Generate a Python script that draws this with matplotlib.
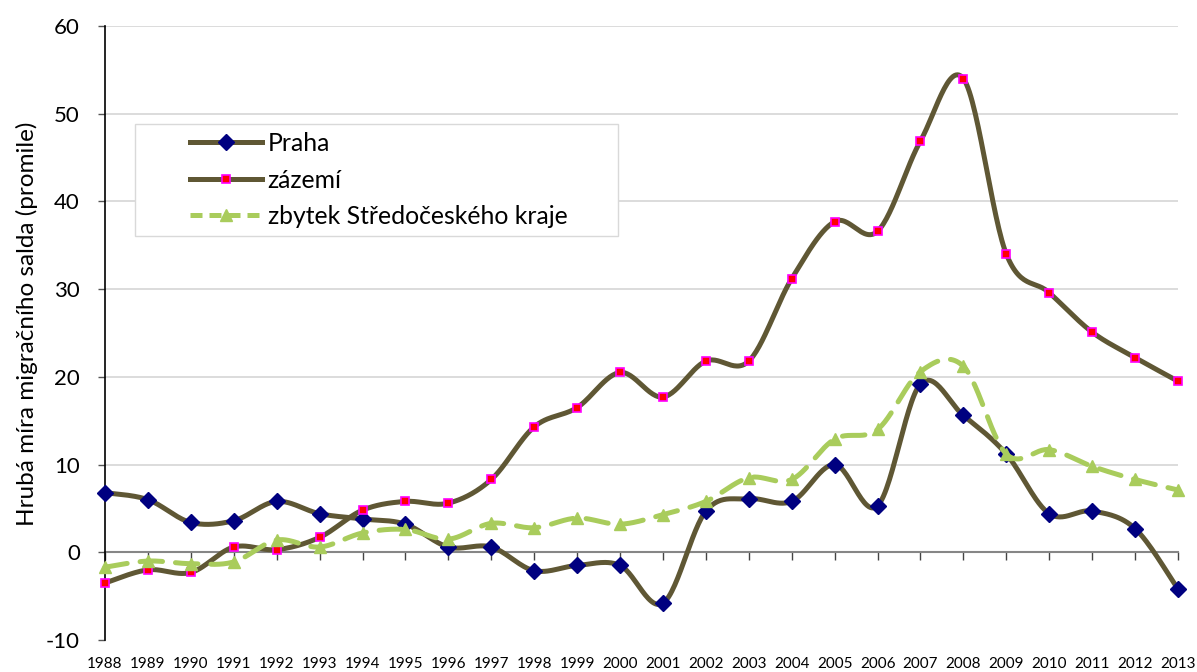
import numpy as np
import matplotlib
matplotlib.use("Agg")
import matplotlib.pyplot as plt
from matplotlib.lines import Line2D
from matplotlib.patches import Rectangle

years = list(range(1988, 2014))
praha = [6.8, 6.0, 3.4, 3.6, 5.8, 4.4, 3.8, 3.2, 0.6, 0.6, -2.1, -1.5, -1.5, -5.8,
         4.7, 6.1, 5.8, 10.0, 5.3, 19.2, 15.6, 11.2, 4.4, 4.7, 2.7, -4.2]
zazemi = [-3.5, -2.0, -2.3, 0.6, 0.3, 1.7, 4.8, 5.8, 5.6, 8.3, 14.3, 16.5, 20.5, 17.7,
          21.8, 21.8, 31.2, 37.7, 36.6, 46.9, 54.0, 34.0, 29.6, 25.1, 22.2, 19.5]
zbytek = [-1.7, -1.0, -1.3, -1.1, 1.4, 0.6, 2.2, 2.6, 1.5, 3.3, 2.8, 3.9, 3.2, 4.3,
          5.8, 8.5, 8.3, 12.9, 14.0, 20.6, 21.2, 11.2, 11.7, 9.8, 8.3, 7.1]
labels = ["Praha", "zázemí", "zbytek Středočeského kraje"]
y_ticks = list(range(-10, 61, 10))

FONT = "Lato"
plt.rcParams['font.family'] = [FONT, 'DejaVu Sans']


def smooth(xs, ys, n=30):
    """Excel-like smoothed line: Catmull-Rom Bezier segments."""
    P = np.column_stack([xs, ys]).astype(float)
    m = len(P)
    out = []
    t = np.linspace(0, 1, n)[:, None]
    for i in range(m - 1):
        p0 = P[i - 1] if i > 0 else P[i]
        p1 = P[i]
        p2 = P[i + 1]
        p3 = P[i + 2] if i + 2 < m else P[i + 1]
        c1 = p1 + (p2 - p0) / 6.0
        c2 = p2 - (p3 - p1) / 6.0
        seg = ((1 - t) ** 3) * p1 + 3 * ((1 - t) ** 2) * t * c1 + 3 * (1 - t) * t ** 2 * c2 + t ** 3 * p2
        out.append(seg if i == 0 else seg[1:])
    s = np.vstack(out)
    return s[:, 0], s[:, 1]


W, H = 1197, 672
fig = plt.figure(figsize=(W / 100, H / 100), dpi=100)
ax = fig.add_axes([105 / W, 1 - 640 / H, (1178 - 105) / W, (640 - 26) / H])

dark = "#5f5734"
green = "#a9cc5c"
lw = 3.6
dms, sms, tms = 7.8, 6.3, 8.8

# Praha
sx, sy = smooth(years, praha)
ax.plot(sx, sy, color=dark, lw=lw, zorder=3, clip_on=False, solid_capstyle='round')
ax.plot(years, praha, ls='none', marker='D', ms=dms, color='#000080', mec='#000080', mew=1,
        zorder=4, clip_on=False)
# zazemi
sx, sy = smooth(years, zazemi)
ax.plot(sx, sy, color=dark, lw=lw, zorder=5, clip_on=False, solid_capstyle='round')
ax.plot(years, zazemi, ls='none', marker='s', ms=sms, color='#ff0000', mec='#ff00ff', mew=1.2,
        zorder=6, clip_on=False)
# zbytek
sx, sy = smooth(years, zbytek)
ax.plot(sx, sy, color=green, lw=lw, ls=(0, (4.5, 2.6)), zorder=7, clip_on=False, dash_capstyle='round')
ax.plot(years, zbytek, ls='none', marker='^', ms=tms, color=green, mec=green, zorder=8, clip_on=False)

ax.set_xlim(1988, 2013)
ax.set_ylim(-10, 60)
ax.set_yticks(y_ticks)
ax.set_yticklabels([str(v) for v in y_ticks], fontsize=16)
for v in y_ticks[2:]:
    ax.axhline(v, color='#d9d9d9', lw=1.3, zorder=1)

ax.set_xticks(years)
ax.set_xticklabels([str(y) for y in years], fontsize=11)
ax.tick_params(axis='x', length=0, pad=12)
ax.tick_params(axis='y', length=5, width=1, direction='out', pad=13, color='#555555')

for s in ['top', 'right', 'bottom']:
    ax.spines[s].set_visible(False)
ax.spines['left'].set_color('black')
ax.spines['left'].set_linewidth(1.2)

# zero axis with tick marks
sec = ax.secondary_xaxis(10 / 70)
sec.set_xticks(years)
sec.set_xticklabels([])
sec.tick_params(axis='x', direction='out', length=6, width=1, color='#444444')
sec.spines['bottom'].set_color('#868686')
sec.spines['bottom'].set_linewidth(1.5)

ax.set_ylabel("Hrubá míra migračního salda (promile)", fontsize=17.5)
ax.yaxis.set_label_coords(-0.0625, 0.515)

# legend box
fig.add_artist(Rectangle((135 / W, 1 - 236 / H), (618 - 135) / W, (236 - 124) / H,
                         transform=fig.transFigure, facecolor='white', edgecolor='#d9d9d9',
                         lw=1.0, zorder=9))
handles = [
    Line2D([], [], color=dark, lw=lw, marker='D', ms=dms, mfc='#000080', mec='#000080'),
    Line2D([], [], color=dark, lw=lw, marker='s', ms=sms, mfc='#ff0000', mec='#ff00ff', mew=1.2),
    Line2D([], [], color=green, lw=lw, ls=(0, (2.4, 1.4)), marker='^', ms=tms, mfc=green, mec=green),
]
leg = fig.legend(handles, labels, loc='center left', bbox_to_anchor=(190 / W, 1 - 180 / H),
                 fontsize=17.8, frameon=False, handlelength=2.9, handletextpad=0.24,
                 labelspacing=0.54, borderpad=0, borderaxespad=0, numpoints=1)
leg.set_zorder(10)

fig.savefig("out.png", dpi=100)
